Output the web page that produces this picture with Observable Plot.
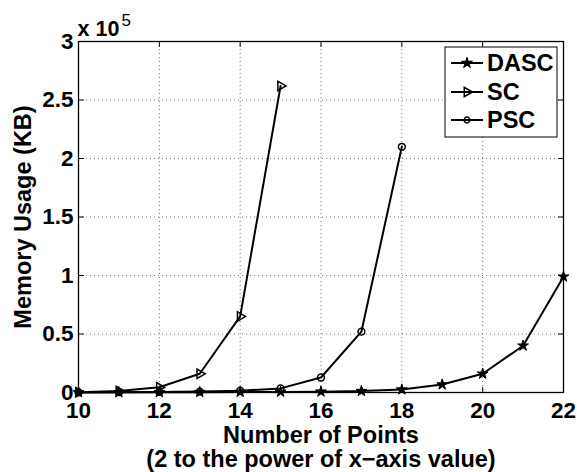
<!DOCTYPE html>
<html>
<head>
<meta charset="utf-8">
<script src="https://cdn.jsdelivr.net/npm/d3@7"></script>
<script src="https://cdn.jsdelivr.net/npm/@observablehq/plot@0.6"></script>
<style>
  html, body { margin: 0; padding: 0; background: #fff; }
  #chart { position: relative; width: 577px; height: 472px; }
</style>
</head>
<body>
<div id="chart"></div>
<script>
// ---- data (memory usage in KB, x = log2 of number of points) ----
const dascX = [10, 11, 12, 13, 14, 15, 16, 17, 18, 19, 20, 21, 22];
const dascY = [100, 150, 200, 300, 400, 500, 700, 1200, 2500, 6800, 16000, 40000, 99000];
const scX = [10, 11, 12, 13, 14, 15];
const scY = [300, 1200, 4500, 16000, 65000, 262000];
const pscX = [10, 11, 12, 13, 14, 15, 16, 17, 18];
const pscY = [200, 300, 500, 800, 1500, 3500, 12800, 52000, 210000];
const seriesNames = ["DASC", "SC", "PSC"];
const xTicks = [10, 12, 14, 16, 18, 20, 22];
const yTicks = [0, 50000, 100000, 150000, 200000, 250000, 300000];
const xDomain = [10, 22];
const yDomain = [0, 300000];
const yExponentLabel = "x 10";
const yExponent = "5";
const xLabel = "Number of Points\n(2 to the power of x\u2212axis value)";
const yLabel = "Memory Usage (KB)";

const rows = (xs, ys, name) => xs.map((x, i) => ({x, y: ys[i], name}));
const dasc = rows(dascX, dascY, seriesNames[0]);
const sc = rows(scX, scY, seriesNames[1]);
const psc = rows(pscX, pscY, seriesNames[2]);

const FONT = "'Liberation Sans', Arial, Helvetica, sans-serif";
const tickShape = {draw(context, l) { context.moveTo(0, 0); context.lineTo(0, -l); }};
const innerX = xTicks.slice(1, -1);
const innerY = yTicks.slice(1, -1);
const R_STAR = 3.4, R_TRI = 3.5, R_CIRC = 3.4;

const plot = Plot.plot({
  width: 577,
  height: 472,
  marginLeft: 78,
  marginRight: 14,
  marginTop: 41,
  marginBottom: 80,
  style: {fontFamily: FONT, fontSize: "22px", fontWeight: "bold", color: "black", background: "white", overflow: "visible"},
  x: {domain: xDomain, axis: null},
  y: {domain: yDomain, axis: null},
  marks: [
    Plot.gridX(innerX, {stroke: "#777", strokeOpacity: 1, strokeWidth: 1, strokeDasharray: "1,3"}),
    Plot.gridY(innerY, {stroke: "#777", strokeOpacity: 1, strokeWidth: 1, strokeDasharray: "1,3"}),
    // inward ticks on all four sides
    Plot.vector(xTicks, {x: d => d, y: () => yDomain[0], rotate: 0, length: 5, anchor: "start", shape: tickShape, stroke: "black", strokeWidth: 1}),
    Plot.vector(xTicks, {x: d => d, y: () => yDomain[1], rotate: 180, length: 5, anchor: "start", shape: tickShape, stroke: "black", strokeWidth: 1}),
    Plot.vector(yTicks, {x: () => xDomain[0], y: d => d, rotate: 90, length: 5, anchor: "start", shape: tickShape, stroke: "black", strokeWidth: 1}),
    Plot.vector(yTicks, {x: () => xDomain[1], y: d => d, rotate: -90, length: 5, anchor: "start", shape: tickShape, stroke: "black", strokeWidth: 1}),
    Plot.frame({stroke: "black", strokeWidth: 1.3}),
    Plot.axisX(xTicks, {anchor: "bottom", label: null, tickSize: 0, tickPadding: 10, fontSize: 22.5, fontWeight: "bold", fill: "black"}),
    Plot.axisY(yTicks, {anchor: "left", label: null, tickSize: 0, tickPadding: 5, tickFormat: d => String(d / 1e5), fontSize: 22.5, fontWeight: "bold", fill: "black"}),
    // series
    Plot.line(dasc, {x: "x", y: "y", stroke: "black", strokeWidth: 2}),
    Plot.line(sc, {x: "x", y: "y", stroke: "black", strokeWidth: 2}),
    Plot.line(psc, {x: "x", y: "y", stroke: "black", strokeWidth: 2}),
    Plot.dot(dasc, {x: "x", y: "y", symbol: "star", r: R_STAR, fill: "black", stroke: "black", strokeWidth: 1}),
    Plot.dot(sc, {x: "x", y: "y", symbol: "triangle", rotate: 90, r: R_TRI, fill: "none", stroke: "black", strokeWidth: 1.5}),
    Plot.dot(psc, {x: "x", y: "y", symbol: "circle", r: R_CIRC, fill: "none", stroke: "black", strokeWidth: 1.5}),
    // axis labels
    Plot.text([xLabel], {text: d => d, frameAnchor: "bottom", textAnchor: "middle", lineAnchor: "top", dy: 34, lineHeight: 1.0, fontSize: 23.5, fontWeight: "bold", fill: "black"}),
    Plot.text([yLabel], {text: d => d, frameAnchor: "left", textAnchor: "middle", lineAnchor: "middle", rotate: -90, dx: -55, fontSize: 23.5, fontWeight: "bold", fill: "black"}),
    Plot.text([yExponentLabel], {text: d => d, frameAnchor: "top-left", textAnchor: "start", lineAnchor: "bottom", dx: -1, dy: -6, fontSize: 21.5, fontWeight: "bold", fill: "black"}),
    Plot.text([yExponent], {text: d => d, frameAnchor: "top-left", textAnchor: "start", lineAnchor: "bottom", dx: 43, dy: -16, fontSize: 17, fontWeight: "normal", fill: "black"})
  ]
});

document.getElementById("chart").appendChild(plot);

// ---- legend drawn inside the plot area (top-right) ----
const svg = d3.select(plot);
const legend = svg.append("g")
  .attr("font-family", FONT).attr("font-size", 23.5).attr("font-weight", "bold")
  .attr("text-anchor", "start");
const bx = 445, by = 47, bw = 112, bh = 90;
legend.append("rect").attr("x", bx).attr("y", by).attr("width", bw).attr("height", bh)
  .attr("fill", "white").attr("stroke", "black").attr("stroke-width", 1);
const legendSymbols = [
  {sym: d3.symbolStar, r: R_STAR, fill: "black", rot: 0},
  {sym: d3.symbolTriangle, r: R_TRI, fill: "none", rot: 90},
  {sym: d3.symbolCircle, r: R_CIRC * 0.85, fill: "none", rot: 0}
];
const rowY = [63, 92, 120];
seriesNames.forEach((name, i) => {
  const y = rowY[i];
  legend.append("line").attr("x1", bx + 6).attr("x2", bx + 38).attr("y1", y).attr("y2", y)
    .attr("stroke", "black").attr("stroke-width", 2);
  const s = legendSymbols[i];
  // same sizing as Plot's dot: symbol area = r^2 * PI
  legend.append("path")
    .attr("d", d3.symbol(s.sym, s.r * s.r * Math.PI)())
    .attr("transform", `translate(${bx + 22},${y}) rotate(${s.rot})`)
    .attr("fill", s.fill).attr("stroke", "black").attr("stroke-width", s.fill === "none" ? 1.5 : 1);
  legend.append("text").attr("x", bx + 42).attr("y", y).attr("dy", "0.36em").attr("fill", "black").text(name);
});
</script>
</body>
</html>
